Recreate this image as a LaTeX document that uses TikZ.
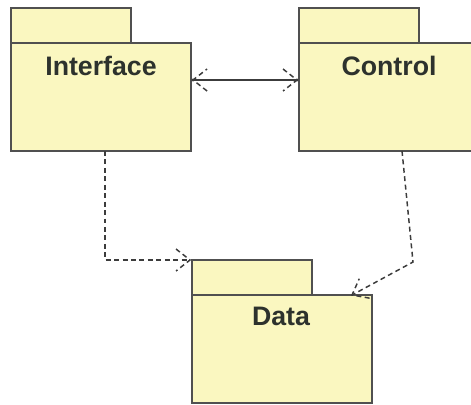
\documentclass[tikz,border=0pt]{standalone}
\usepackage{fontspec}
\usepackage{tikz}
\usetikzlibrary{calc,positioning}
\newfontfamily\paqfont{Liberation Sans}
\definecolor{AmarilloPaquete}{RGB}{250,247,192}
\definecolor{GrisBorde}{RGB}{80,80,80}
\definecolor{GrisTexto}{RGB}{45,50,45}
\definecolor{GrisLinea}{RGB}{60,60,60}
\tikzset{
  paquete/.style={draw=GrisBorde,fill=AmarilloPaquete,line width=1.1pt,
    minimum width=4.5cm,minimum height=2.7cm,inner sep=0pt,outer sep=0pt},
  pestana/.style={paquete,minimum width=3cm,minimum height=0.875cm},
  nombre/.style={font=\paqfont\bfseries\fontsize{19}{22}\selectfont,
    text=GrisTexto,inner sep=0pt},
  dep/.style={draw=GrisLinea,line width=1.05pt,dash pattern=on 3.5pt off 2.5pt},
  punta/.pic={\draw[dep] (-14,-11)--(0,0)--(-14,11);}
}

\begin{document}
\begin{tikzpicture}[x=0.025cm,y=-0.025cm]
  \useasboundingbox (0,0) rectangle (471,404);
  % paquetes
  \node[paquete,anchor=north west] (iface) at (11,43) {};
  \node[pestana,anchor=south west] (ifacetab) at (iface.north west) {};
  \node[nombre,anchor=base] (ifacename) at ($(iface.north)+(0,32)$) {Interface};
  \node[paquete,anchor=north west] (ctrl) at (299,43) {};
  \node[pestana,anchor=south west] (ctrltab) at (ctrl.north west) {};
  \node[nombre,anchor=base] (ctrlname) at ($(ctrl.north)+(0,32)$) {Control};
  \node[paquete,anchor=north west] (data) at (192,295) {};
  \node[pestana,anchor=south west] (datatab) at (data.north west) {};
  \node[nombre,anchor=base] (dataname) at ($(data.north)+(-1,30)$) {Data};
  % Interface <-> Control
  \coordinate (ia) at ($(iface.north east)+(2,37)$);
  \coordinate (ca) at ($(ctrl.north west)+(-2,37)$);
  \draw[GrisLinea,line width=1pt] (ia) -- (ca);
  \fill[GrisLinea] (ia) circle (1.6) (ca) circle (1.6);
  \pic[rotate=180] at (ia) {punta};
  \pic at (ca) {punta};
  % Interface -> Data
  \coordinate (ib) at ($(iface.south)+(4,0)$);
  \coordinate (di) at ($(datatab.north west)+(-2,0)$);
  \draw[dep] (ib) |- (di);
  \pic at (di) {punta};
  % Control -> Data
  \coordinate (cb) at ($(ctrl.south)+(13,0)$);
  \coordinate (codo) at (413,262);
  \coordinate (dc) at ($(data.north east)+(-20,0)$);
  \draw[dep] (cb) -- (codo) -- (dc);
  \pic[rotate=208] at (dc) {punta};
\end{tikzpicture}
\end{document}
